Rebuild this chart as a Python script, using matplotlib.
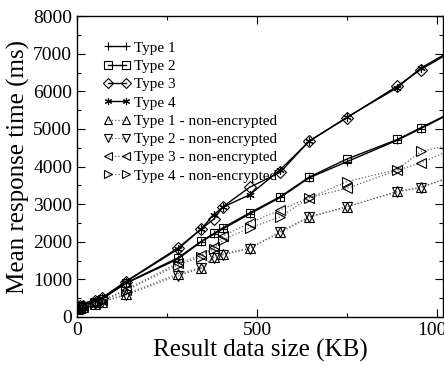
import matplotlib
matplotlib.use("Agg")
import matplotlib.pyplot as plt
from matplotlib.ticker import MultipleLocator

plt.rcParams['font.family'] = ['Liberation Serif', 'DejaVu Serif']

# result data size (KB)
sizes = [2, 8, 18, 50, 70, 135, 280, 345, 380, 405, 480, 565, 645, 750, 890, 955, 1040]

# mean response time (ms), encrypted
type1 = [250, 260, 300, 400, 480, 890, 1540, 2000, 2200, 2340, 2740, 3180, 3700, 4130, 4700, 5010, 5420]
type2 = [240, 270, 290, 410, 490, 900, 1570, 2010, 2220, 2370, 2770, 3200, 3720, 4200, 4720, 5030, 5440]
type3 = [250, 280, 300, 420, 510, 940, 1830, 2340, 2600, 2930, 3450, 3850, 4680, 5300, 6140, 6580, 7050]
type4 = [250, 270, 310, 420, 500, 930, 1800, 2340, 2720, 2920, 3250, 3920, 4670, 5310, 6100, 6620, 7080]

# non-encrypted
type1_ne = [220, 240, 260, 350, 410, 600, 1150, 1310, 1600, 1680, 1830, 2270, 2670, 2930, 3340, 3450, 3730]
type2_ne = [220, 240, 260, 350, 400, 580, 1100, 1290, 1580, 1650, 1820, 2250, 2650, 2930, 3330, 3440, 3720]
type3_ne = [230, 250, 280, 380, 440, 720, 1430, 1640, 1850, 2150, 2500, 2850, 3170, 3420, 3900, 4100, 4450]
type4_ne = [230, 260, 280, 370, 430, 700, 1380, 1600, 1820, 2050, 2370, 2660, 3170, 3600, 3920, 4400, 4580]

series = [
    ("Type 1", type1, "+", "-"),
    ("Type 2", type2, "s", "-"),
    ("Type 3", type3, "D", "-"),
    ("Type 4", type4, (6, 2, 0), "-"),
    ("Type 1 - non-encrypted", type1_ne, "^", ":"),
    ("Type 2 - non-encrypted", type2_ne, "v", ":"),
    ("Type 3 - non-encrypted", type3_ne, "<", ":"),
    ("Type 4 - non-encrypted", type4_ne, ">", ":"),
]

fig = plt.figure(figsize=(4.44, 3.66), dpi=100)
ax = fig.add_axes([0.1734, 0.134, 0.8246, 0.822])

for label, vals, mk, ls in series:
    if ls == "-":
        ax.plot(sizes, vals, color="black", linestyle=ls, linewidth=1.0,
                marker=mk, markersize=6, markerfacecolor="none",
                markeredgecolor="black", markeredgewidth=0.8, label=label)
    else:
        ax.plot(sizes, vals, color="0.4", linestyle=ls, linewidth=0.9,
                marker=mk, markersize=6.5, markerfacecolor="none",
                markeredgecolor="black", markeredgewidth=0.8, label=label)

ax.set_xlim(0, 1017)
ax.set_ylim(0, 8000)
ax.xaxis.set_major_locator(MultipleLocator(500))
ax.xaxis.set_minor_locator(MultipleLocator(250))
ax.yaxis.set_major_locator(MultipleLocator(1000))
ax.yaxis.set_minor_locator(MultipleLocator(500))
ax.tick_params(which="both", direction="in", top=True, right=True, labelsize=14)
ax.tick_params(which="major", length=6, width=0.8)
ax.tick_params(which="minor", length=3, width=0.8)
for sp in ax.spines.values():
    sp.set_linewidth(1.0)

ax.set_xlabel("Result data size (KB)", fontsize=18, labelpad=0)
ax.set_ylabel("Mean response time (ms)", fontsize=18, labelpad=2)

ax.legend(loc="upper left", bbox_to_anchor=(0.071, 0.917), frameon=False,
          fontsize=11, numpoints=2, handlelength=1.8, handletextpad=0.25,
          labelspacing=0.3, borderpad=0, borderaxespad=0, markerscale=0.85)

fig.savefig("out.png", dpi=100)
